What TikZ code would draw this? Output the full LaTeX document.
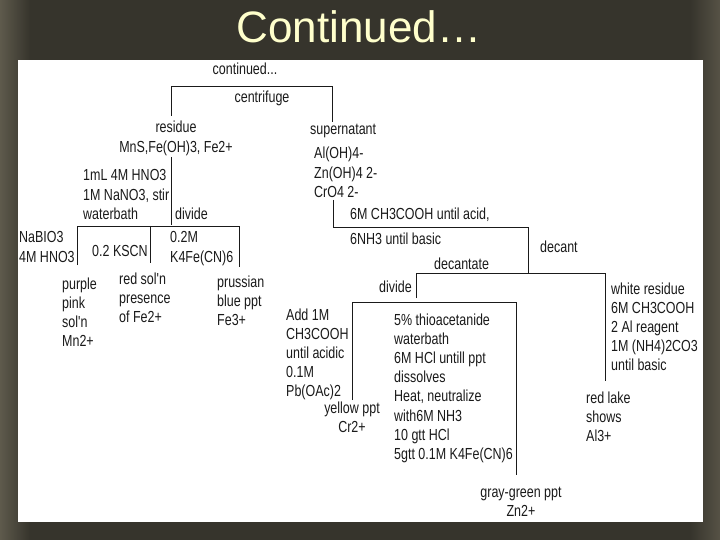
\documentclass[tikz,border=0pt]{standalone}
\usepackage{fontspec}
\setmainfont{Liberation Sans}
\newfontfamily\diagfont[FakeStretch=0.78]{Liberation Sans}
\newfontfamily\titlefont{Liberation Sans}
\definecolor{bgdark}{HTML}{36342C}
\definecolor{bgleft}{HTML}{5E5A4C}
\definecolor{titlecream}{HTML}{FFFFCC}
\definecolor{inkgrey}{HTML}{1A1A1A}
\newcommand\lstack[1]{\begin{tabular}[t]{@{}l@{}}#1\end{tabular}}
\newcommand\cstack[1]{\begin{tabular}[t]{@{}c@{}}#1\end{tabular}}
\begin{document}
\begin{tikzpicture}[x=1pt,y=-1pt,
  lbl/.style={anchor=base west, inner sep=0pt, text=inkgrey, font=\diagfont\fontsize{16}{19.2}\selectfont},
  clbl/.style={lbl, anchor=base},
  wire/.style={draw=inkgrey, line width=0.8pt}]
\useasboundingbox (0,0) rectangle (720,540);
% background
\fill[bgdark] (0,0) rectangle (720,540);
\shade[left color=bgleft, right color=bgdark] (0,0) rectangle (30,540);
\shade[left color=bgdark, right color=bgleft!80!bgdark] (690,0) rectangle (720,540);
\fill[white] (18,60) rectangle (703,522);
% title
\node[anchor=base, inner sep=0pt, text=titlecream, font=\titlefont\fontsize{44}{50}\selectfont] (title) at (359,43) {Continued…};

% labels
\node[clbl] (cont) at (245,75) {continued...};
\node[clbl] (centr) at (262,103) {centrifuge};
\node[clbl] (resid) at (176,133) {\cstack{residue\\MnS,Fe(OH)3, Fe2+}};
\node[lbl] (super) at (310,135) {supernatant};
\node[lbl] (ions) at (314,159) {\lstack{Al(OH)4-\\Zn(OH)4 2-\\CrO4 2-}};
\node[lbl] (acid) at (350,220) {6M CH3COOH until acid,};
\node[lbl] (basic) at (350,244) {6NH3 until basic};
\node[lbl] (decant) at (540,252) {decant};
\node[lbl] (decantate) at (434,269) {decantate};
\node[lbl] (divr) at (379,292) {divide};
\node[lbl] (hno) at (83,181) {\lstack{1mL 4M HNO3\\1M NaNO3, stir\\waterbath}};
\node[lbl] (divl) at (175,219) {divide};
\node[lbl] (nabio) at (19,243) {\lstack{NaBIO3\\4M HNO3}};
\node[lbl] (kscn) at (92,256) {0.2 KSCN};
\node[lbl] (kfe) at (170,243) {\lstack{0.2M\\K4Fe(CN)6}};
\node[lbl] (purple) at (62,289) {\lstack{purple\\pink\\sol'n\\Mn2+}};
\node[lbl] (red) at (119,284) {\lstack{red sol'n\\presence\\of Fe2+}};
\node[lbl] (prus) at (217,287) {\lstack{prussian\\blue ppt\\Fe3+}};
\node[lbl] (add) at (286,320) {\lstack{Add 1M\\CH3COOH\\until acidic\\0.1M\\Pb(OAc)2}};
\node[lbl] (thio) at (394,325) {\lstack{5\% thioacetanide\\waterbath\\6M HCl untill ppt\\dissolves\\Heat, neutralize\\with6M NH3\\10 gtt HCl\\5gtt 0.1M K4Fe(CN)6}};
\node[clbl] (yellow) at (352,413) {\cstack{yellow ppt\\Cr2+}};
\node[lbl] (white) at (611,294) {\lstack{white residue\\6M CH3COOH\\2 Al reagent\\1M (NH4)2CO3\\until basic}};
\node[lbl] (lake) at (586,403) {\lstack{red lake\\shows\\Al3+}};
\node[clbl] (gray) at (521,497) {\cstack{gray-green ppt\\Zn2+}};

% connector corners
\coordinate (c1a) at (171,116); \coordinate (c1b) at (171,86);
\coordinate (c1c) at (332,86);  \coordinate (c1d) at (332,122);
\coordinate (c2a) at (171,157); \coordinate (c2b) at (171,225);
\coordinate (b1) at (77,265);   \coordinate (b2) at (77,226);
\coordinate (b3) at (239,226);  \coordinate (b4) at (239,267);
\coordinate (b5) at (150,226);  \coordinate (b6) at (150,263);
\coordinate (d1) at (333,200);  \coordinate (d2) at (333,227);
\coordinate (d3) at (528,227);  \coordinate (d4) at (528,273);
\coordinate (e1) at (416,298);  \coordinate (e2) at (416,273);
\coordinate (e3) at (605,273);  \coordinate (e4) at (605,381);
\coordinate (f1) at (352,400);  \coordinate (f2) at (352,302);
\coordinate (f3) at (516,302);  \coordinate (f4) at (516,475);

\draw[wire] (c1a) -- (c1b) -- (c1c) -- (c1d);
\draw[wire] (c2a) -- (c2b);
\draw[wire] (b1) -- (b2) -- (b3) -- (b4);
\draw[wire] (b5) -- (b6);
\draw[wire] (d1) -- (d2) -- (d3) -- (d4);
\draw[wire] (e1) -- (e2) -- (e3) -- (e4);
\draw[wire] (f1) -- (f2) -- (f3) -- (f4);
\end{tikzpicture}
\end{document}
